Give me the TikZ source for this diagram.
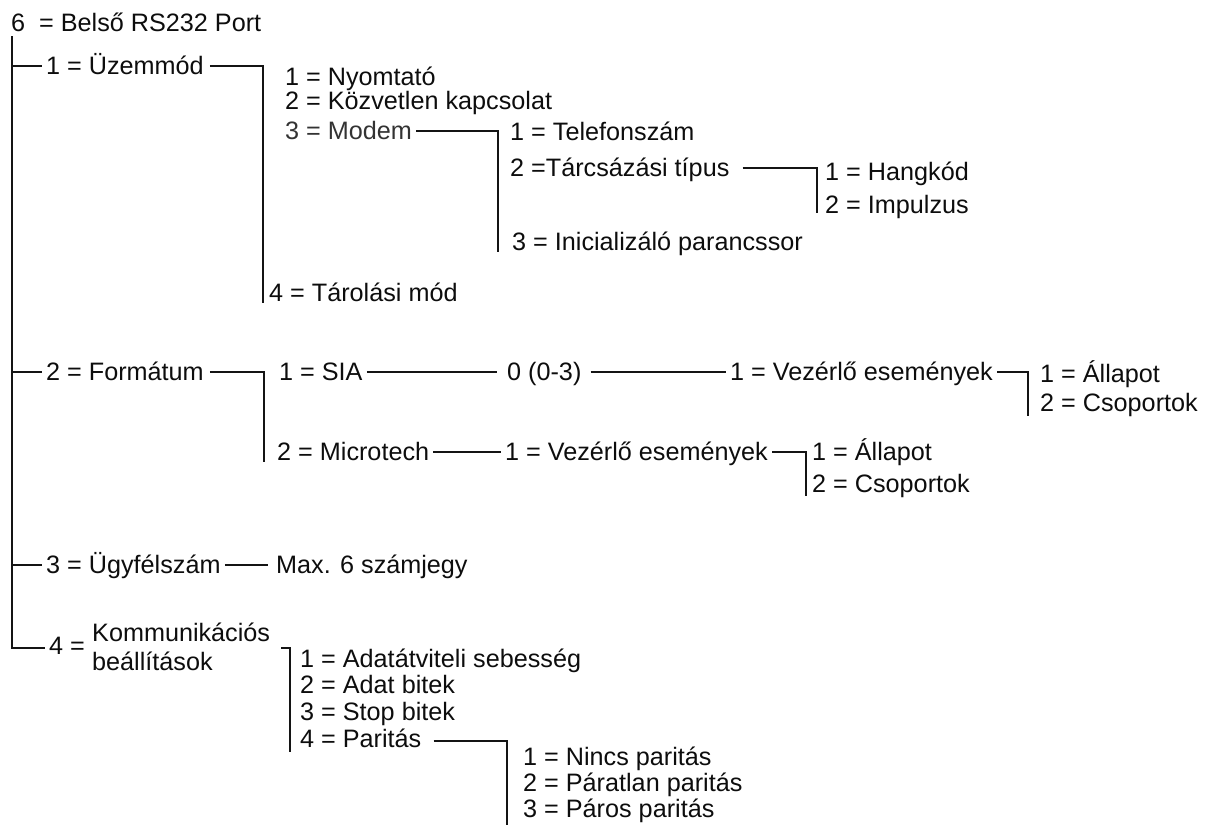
\documentclass[tikz,border=0pt]{standalone}
\usepackage{fontspec}
\setmainfont{Liberation Sans}
\begin{document}
\begin{tikzpicture}[x=1pt,y=-1pt,
  lbl/.style={anchor=west,inner xsep=4pt,inner ysep=0pt,text height=17.8pt,text depth=0pt,font=\fontsize{25.2}{27}\selectfont,text=black!95},
  two/.style={anchor=west,align=left,inner sep=0pt,font=\fontsize{25.2}{29}\selectfont,text=black!95},
  wire/.style={line width=1.8pt,black!92}]
\useasboundingbox (0,0) rectangle (1207,825);

% root
\node[lbl] (root) at (7,23) {6\ \ = Belső RS232 Port};
\coordinate (rtop) at (12,36);
\coordinate (rbot) at (12,648);

% 1 = Üzemmód
\node[lbl] (uz) at (42,66) {1 = Üzemmód};
\draw[wire] (rtop |- uz.west) -- (uz.west);
\coordinate (uzA) at (263,66);
\coordinate (uzB) at (263,303);
\draw[wire,shorten <=2pt] (uz.east) -- (uzA) -- (uzB);
\node[lbl] (ny) at (281,77) {1 = Nyomtató};
\node[lbl] (kz) at (281,101) {2 = Közvetlen kapcsolat};
\node[lbl,text=black!80] (mo) at (281,131) {3 = Modem};
\node[lbl] (ta) at (265,293) {4 = Tárolási mód};
\coordinate (moA) at (498,131);
\coordinate (moB) at (498,252);
\draw[wire] (mo.east) -- (moA) -- (moB);
\node[lbl] (te) at (506,132) {1 = Telefonszám};
\node[lbl] (tc) at (506,168) {2 =Tárcsázási típus};
\node[lbl] (in) at (508,242) {3 = Inicializáló parancssor};
\coordinate (tcA) at (817,168);
\coordinate (tcB) at (817,213);
\draw[wire,shorten <=9pt] (tc.east) -- (tcA) -- (tcB);
\node[lbl] (hk) at (821,172) {1 = Hangkód};
\node[lbl] (im) at (821,205) {2 = Impulzus};

% 2 = Formátum
\node[lbl] (fo) at (42,372) {2 = Formátum};
\draw[wire] (rtop |- fo.west) -- (fo.west);
\coordinate (foA) at (264,372);
\coordinate (foB) at (264,462);
\draw[wire,shorten <=2pt] (fo.east) -- (foA) -- (foB);
\node[lbl] (si) at (275,372) {1 = SIA};
\node[lbl] (nu) at (503,372) {0 (0-3)};
\node[lbl] (vea) at (726,372) {1 = Vezérlő események};
\draw[wire,shorten >=6pt] (si.east) -- (nu.west);
\draw[wire,shorten <=5pt] (nu.east) -- (vea.west);
\coordinate (veA) at (1028,372);
\coordinate (veB) at (1028,416);
\draw[wire] (vea.east) -- (veA) -- (veB);
\node[lbl] (ala) at (1036,374) {1 = Állapot};
\node[lbl] (csa) at (1036,403) {2 = Csoportok};
\node[lbl] (mi) at (273,452) {2 = Microtech};
\node[lbl] (veb) at (501,452) {1 = Vezérlő események};
\draw[wire] (mi.east) -- (veb.west);
\coordinate (vfA) at (806,452);
\coordinate (vfB) at (806,496);
\draw[wire] (veb.east) -- (vfA) -- (vfB);
\node[lbl] (alb) at (808,452) {1 = Állapot};
\node[lbl] (csb) at (808,484) {2 = Csoportok};

% 3 = Ügyfélszám
\node[lbl] (ug) at (42,565) {3 = Ügyfélszám};
\draw[wire] (rtop |- ug.west) -- (ug.west);
\node[lbl] (mx) at (272,565) {Max. 6 számjegy};
\draw[wire,shorten >=4pt] (ug.east) -- (mx.west);

% 4 = Kommunikációs beállítások
\node[lbl] (kf) at (45,646) {4 =};
\draw[wire] (rtop) -- (rbot) -- (kf.west |- rbot);
\node[two] (ko) at (92,647) {Kommunikációs\\beállítások};
\coordinate (kt) at (281,648);
\coordinate (kA) at (290,648);
\coordinate (kB) at (290,752);
\draw[wire] (kt) -- (kA) -- (kB);
\node[lbl] (da) at (296,659) {1 = Adatátviteli sebesség};
\node[lbl] (db) at (296,685) {2 = Adat bitek};
\node[lbl] (dc) at (296,712) {3 = Stop bitek};
\node[lbl] (dd) at (296,739) {4 = Paritás};
\coordinate (pA) at (507,741);
\coordinate (pB) at (507,825);
\draw[wire,shorten <=8pt] (dd.east |- pA) -- (pA) -- (pB);
\node[lbl] (pa) at (519,757) {1 = Nincs paritás};
\node[lbl] (pb) at (519,783) {2 = Páratlan paritás};
\node[lbl] (pc) at (519,809) {3 = Páros paritás};
\end{tikzpicture}
\end{document}
